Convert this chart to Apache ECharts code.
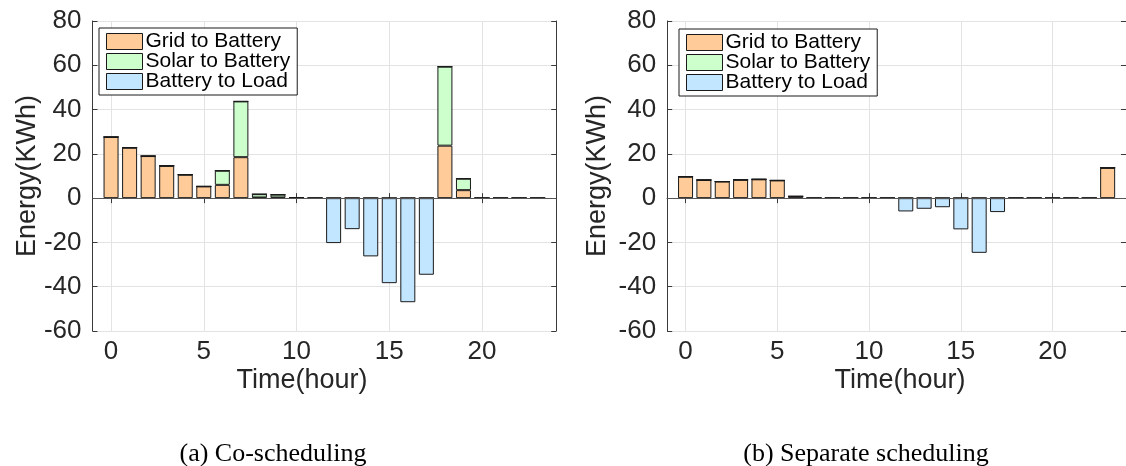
<!DOCTYPE html>
<html>
<head>
<meta charset="utf-8">
<script src="https://cdn.jsdelivr.net/npm/echarts@6/dist/echarts.min.js"></script>
<style>
  html, body { margin: 0; padding: 0; background: #fff; }
  #chart { width: 1126px; height: 466px; }
</style>
</head>
<body>
<div id="chart"></div>
<script>
// Hours of the day (one bar per hour)
const hours = [0,1,2,3,4,5,6,7,8,9,10,11,12,13,14,15,16,17,18,19,20,21,22,23];
const yTicks = [-60, -40, -20, 0, 20, 40, 60, 80];
const seriesNames = ['Grid to Battery', 'Solar to Battery', 'Battery to Load'];

// (a) Co-scheduling, energy per hour (KWh)
const coGrid  = [27.6, 22.8, 19.0, 14.6, 10.6, 5.3, 6.0, 18.5, 0.3, 0.3, 0.2, 0, 0, 0, 0, 0, 0, 0, 23.7, 3.6, 0, 0, 0, 0];
const coSolar = [0, 0, 0, 0, 0, 0, 6.4, 25.2, 1.5, 1.3, 0, 0, 0, 0, 0, 0, 0, 0, 35.7, 5.2, 0, 0, 0, 0];
const coLoad  = [0, 0, 0, 0, 0, 0, 0, 0, 0, 0, 0, 0, -20.3, -14.0, -26.3, -38.4, -47.0, -34.6, 0, 0, 0, 0, 0, 0];

// (b) Separate scheduling, energy per hour (KWh)
const sepGrid  = [9.7, 8.2, 7.5, 8.3, 8.5, 8.0, 0.8, 0, 0, 0, 0, 0, 0, 0, 0, 0, 0, 0, 0, 0, 0, 0, 0, 13.7];
const sepSolar = [0, 0, 0, 0, 0, 0, 0, 0, 0, 0, 0, 0, 0, 0, 0, 0, 0, 0, 0, 0, 0, 0, 0, 0];
const sepLoad  = [0, 0, 0, 0, 0, 0, 0, 0, 0, 0, 0, 0, -6.0, -4.8, -4.1, -14.1, -24.7, -6.3, 0, 0, 0, 0, 0, 0];

const colors = ['#FFCC99', '#CCFFCC', '#C2E6FF'];
const edge = '#1a1a1a';
const axisColor = '#3a3a3a';
const textColor = '#262626';
const gridLine = '#e3e3e3';
const sans = 'Liberation Sans, Arial, Helvetica, sans-serif';
const serif = 'Liberation Serif, Times New Roman, serif';

// x range runs from -1 to 24 so the bars sit one hour in from each side
const cats = ['-1'].concat(hours.map(String), ['24']);
const pad = a => [null].concat(a, [null]);
const isMajor = (i, v) => { const n = Number(v); return n >= 0 && n <= 20 && n % 5 === 0; };

function xAxes(gi) {
  const base = {
    type: 'category', data: cats, boundaryGap: false, gridIndex: gi,
    axisLine: { show: true, lineStyle: { color: axisColor, width: 1 } },
    axisTick: { show: true, inside: true, length: 5, interval: isMajor, lineStyle: { color: axisColor } }
  };
  return [
    Object.assign({}, base, {
      position: 'bottom',
      axisLabel: { interval: isMajor, margin: 8, fontSize: 26, fontFamily: sans, color: textColor },
      splitLine: { show: true, interval: isMajor, lineStyle: { color: gridLine, width: 1 } }
    }),
    Object.assign({}, base, {
      position: 'top',
      axisLabel: { show: false },
      splitLine: { show: false }
    })
  ];
}

function yAxes(gi) {
  const base = {
    type: 'value', gridIndex: gi, min: yTicks[0], max: yTicks[yTicks.length - 1], interval: 20,
    axisLine: { show: true, lineStyle: { color: axisColor, width: 1 } },
    axisTick: { show: true, inside: true, length: 5, lineStyle: { color: axisColor } }
  };
  return [
    Object.assign({}, base, {
      position: 'left',
      axisLabel: { margin: 11, fontSize: 26, fontFamily: sans, color: textColor },
      splitLine: { show: true, lineStyle: { color: gridLine, width: 1 } }
    }),
    Object.assign({}, base, {
      position: 'right',
      axisLabel: { show: false },
      splitLine: { show: false }
    })
  ];
}

function barSeries(gi, grid, solar, load) {
  const vals = [grid, solar, load];
  return vals.map((v, k) => {
    const s = {
      name: seriesNames[k], type: 'bar', stack: 'energy' + gi,
      xAxisIndex: gi * 2, yAxisIndex: gi * 2,
      barWidth: 15,
      data: pad(v),
      itemStyle: { color: colors[k], borderColor: edge, borderWidth: 1 },
      emphasis: { disabled: true }
    };
    if (k === 0) {
      s.markLine = {
        silent: true, symbol: 'none', label: { show: false },
        lineStyle: { color: '#555', width: 1, type: 'solid' },
        data: [{ yAxis: 0 }]
      };
    }
    return s;
  });
}

function legendAt(left, top) {
  return {
    orient: 'vertical', left: left, top: top,
    icon: 'rect', itemWidth: 36, itemHeight: 16, itemGap: -1,
    padding: [3, 7, 3, 7],
    backgroundColor: '#fff', borderColor: '#1a1a1a', borderWidth: 1,
    textStyle: { fontSize: 21, fontFamily: sans, color: '#000', padding: [0, 0, 0, -2] },
    itemStyle: { borderColor: edge, borderWidth: 1 },
    data: seriesNames,
    selectedMode: false
  };
}

const chart = echarts.init(document.getElementById('chart'), null, { renderer: 'canvas' });
chart.setOption({
  animation: false,
  backgroundColor: '#fff',
  grid: [
    { left: 92.5, top: 21, width: 463.7, height: 310, containLabel: false },
    { left: 667.2, top: 21, width: 463.7, height: 310, containLabel: false }
  ],
  xAxis: xAxes(0).concat(xAxes(1)),
  yAxis: yAxes(0).concat(yAxes(1)),
  legend: [legendAt(99, 28), legendAt(679, 29)],
  series: barSeries(0, coGrid, coSolar, coLoad).concat(barSeries(1, sepGrid, sepSolar, sepLoad)),
  graphic: [
    { type: 'text', x: 28, y: 176, rotation: Math.PI / 2,
      style: { text: 'Energy(KWh)', fontSize: 27, fontFamily: sans, fill: textColor, align: 'center', verticalAlign: 'middle' } },
    { type: 'text', x: 598, y: 176, rotation: Math.PI / 2,
      style: { text: 'Energy(KWh)', fontSize: 27, fontFamily: sans, fill: textColor, align: 'center', verticalAlign: 'middle' } },
    { type: 'text', x: 302, y: 381,
      style: { text: 'Time(hour)', fontSize: 27, fontFamily: sans, fill: textColor, align: 'center', verticalAlign: 'middle' } },
    { type: 'text', x: 900, y: 381,
      style: { text: 'Time(hour)', fontSize: 27, fontFamily: sans, fill: textColor, align: 'center', verticalAlign: 'middle' } },
    { type: 'text', x: 273, y: 454,
      style: { text: '(a) Co-scheduling', fontSize: 26, fontFamily: serif, fill: '#000', align: 'center', verticalAlign: 'middle' } },
    { type: 'text', x: 866, y: 454,
      style: { text: '(b) Separate scheduling', fontSize: 26, fontFamily: serif, fill: '#000', align: 'center', verticalAlign: 'middle' } }
  ]
});
</script>
</body>
</html>
